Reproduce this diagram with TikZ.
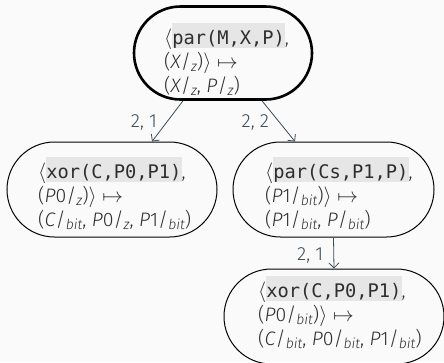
\documentclass[tikz,border=0pt]{standalone}
\usepackage{fontspec}
\setmainfont{Fira Sans}[UprightFont=* Light, ItalicFont=* Light Italic]
\setmonofont{DejaVu Sans Mono}[Scale=0.96]
\usetikzlibrary{shapes.misc,calc,arrows.meta}
\definecolor{bgc}{HTML}{FAFAFA}
\definecolor{txtc}{HTML}{2E2E2E}
\definecolor{edgec}{HTML}{3B4B55}
\definecolor{codebg}{HTML}{E6E6E6}
\newcommand\cd[1]{{\setlength\fboxsep{0pt}\colorbox{codebg}{\rule[-4pt]{0pt}{25pt}\ttfamily #1}}}
\newcommand\fr[2]{#1/\raisebox{-0.35ex}{\fontsize{14}{14}\selectfont\textit{#2}}}
\tikzset{
  tbox/.style={rounded rectangle, draw=black, line width=1pt, minimum height=95pt, inner sep=0pt},
  lbl/.style={text=edgec, font=\fontsize{19}{19}\selectfont, inner sep=0pt},
  body/.style={text=txtc, align=left, inner sep=0pt, anchor=base west, font=\fontsize{19.5}{24}\selectfont},
  arr/.style={draw=edgec, line width=0.8pt, -{Straight Barb[length=5pt,width=10pt]}}
}
\begin{document}
\begin{tikzpicture}[x=1pt,y=-1pt]
\fill[bgc] (0,0) rectangle (444,362);
\useasboundingbox (0,0) rectangle (444,362);
\node[tbox, line width=2.6pt, minimum width=178pt, minimum height=93pt] (top) at (223,53) {};
\node[tbox, minimum width=210pt] (left) at (112,189.5) {};
\node[tbox, minimum width=201pt] (right) at (333.5,189.5) {};
\node[tbox, minimum width=220pt] (bot) at (334,316.5) {};
\node[body] (topt) at (164,92) {$\langle$\cd{par(M,X,P)},\\(\fr{\textit{X}}{z})$\rangle\mapsto$\\(\fr{\textit{X}}{z}, \fr{\textit{P}}{z})};
\node[body] (leftt) at (38,226) {$\langle$\cd{xor(C,P0,P1)},\\(\fr{\textit{P}0}{z})$\rangle\mapsto$\\(\fr{\textit{C}}{bit}, \fr{\textit{P}0}{z}, \fr{\textit{P}1}{bit})};
\node[body] (rightt) at (265,226) {$\langle$\cd{par(Cs,P1,P)},\\(\fr{\textit{P}1}{bit})$\rangle\mapsto$\\(\fr{\textit{P}1}{bit}, \fr{\textit{P}}{bit})};
\node[body] (bott) at (258,345) {$\langle$\cd{xor(C,P0,P1)},\\(\fr{\textit{P}0}{bit})$\rangle\mapsto$\\(\fr{\textit{C}}{bit}, \fr{\textit{P}0}{bit}, \fr{\textit{P}1}{bit})};
\draw[arr] ([xshift=-40pt]top.south) -- ([xshift=40pt]left.north) node[lbl, midway, left=10pt, yshift=-1.5pt] (l1) {2, 1};
\draw[arr] ([xshift=39pt]top.south) -- ([xshift=-38.5pt]right.north) node[lbl, midway, left=9pt, yshift=-1.5pt] (l2) {2, 2};
\draw[arr] (right.south) -- (bot.north) node[lbl, midway, left=10pt, yshift=-3pt] (l3) {2, 1};
\end{tikzpicture}
\end{document}
